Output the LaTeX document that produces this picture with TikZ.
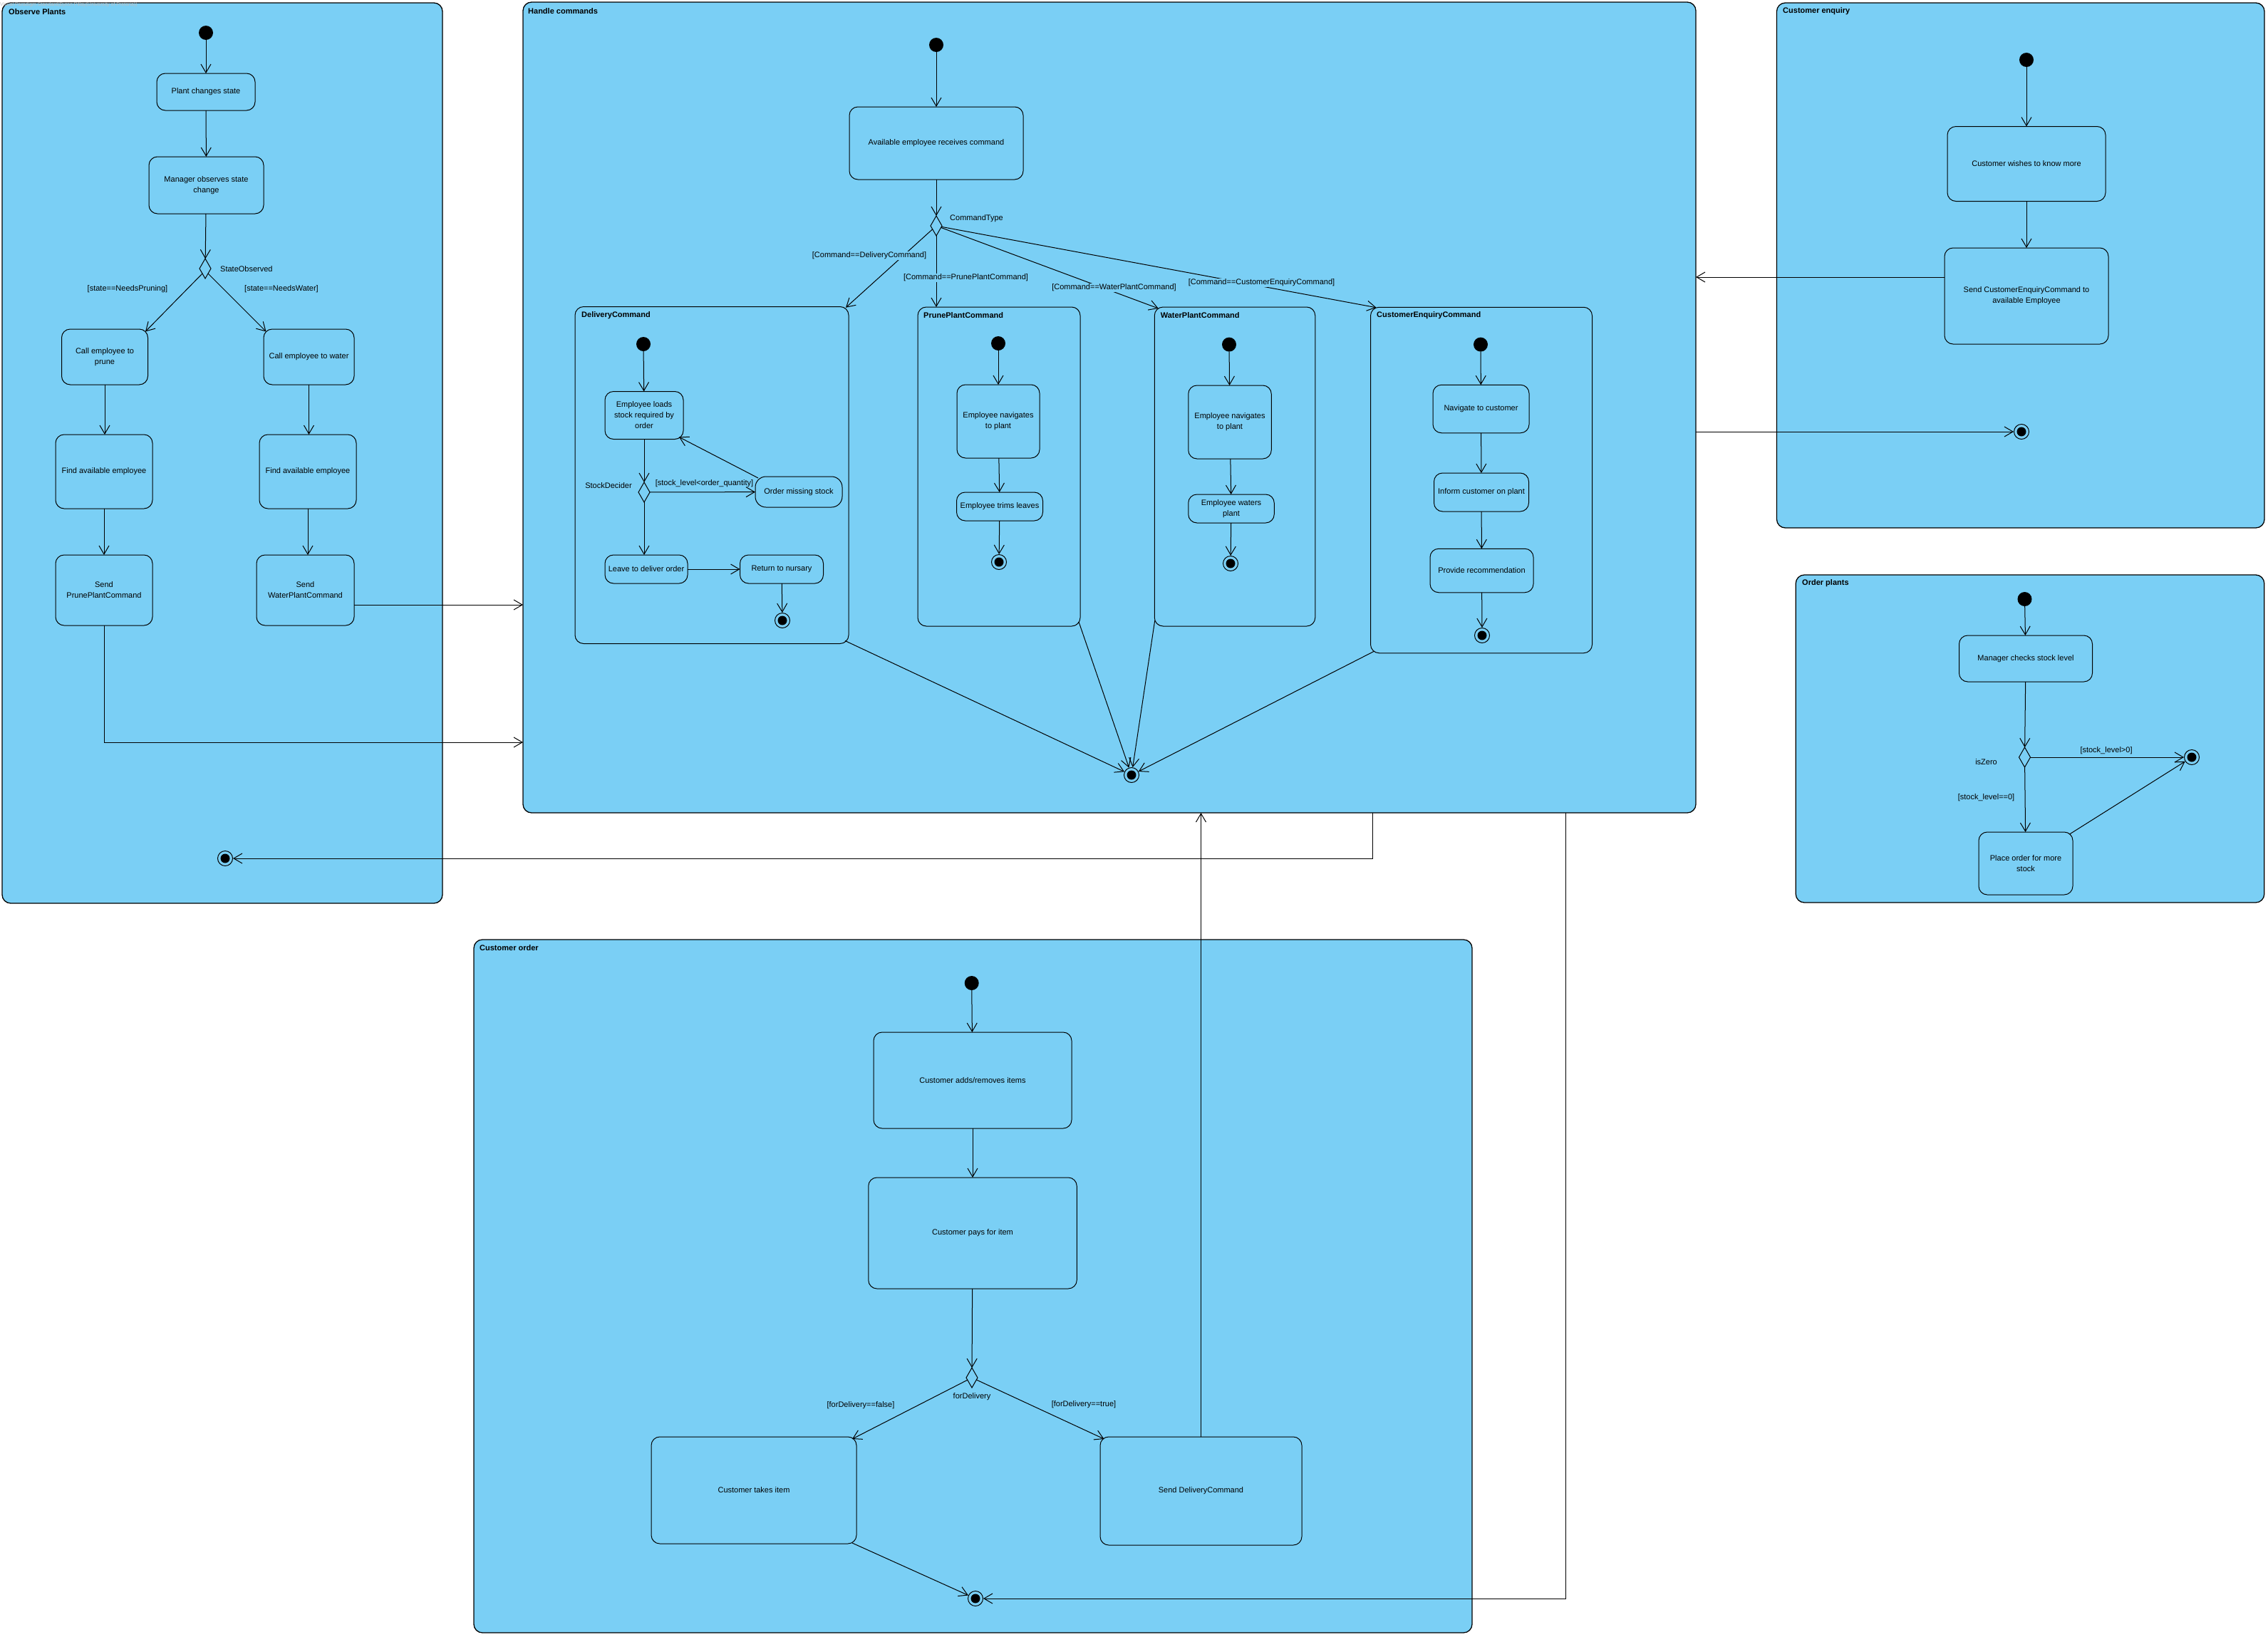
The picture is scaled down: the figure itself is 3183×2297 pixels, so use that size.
\documentclass[tikz,border=0pt]{standalone}
\usepackage{fontspec}
\setmainfont{Liberation Sans}
\usetikzlibrary{arrows.meta,shapes.geometric,calc}
\definecolor{vpblue}{RGB}{122,207,245}
\begin{document}
\begin{tikzpicture}[x=1pt,y=-1pt,
  frm/.style={draw, fill=vpblue, rounded corners=12pt, line width=1.3pt, inner sep=0pt, outer sep=0pt},
  frmtitle/.style={anchor=west, inner sep=0pt, font=\fontsize{11}{13}\selectfont\bfseries},
  st/.style={draw, fill=vpblue, rounded corners=12pt, line width=1pt, align=center, inner sep=1pt, outer sep=0pt, font=\fontsize{11}{15}\selectfont},
  ini/.style={circle, fill=black, minimum size=20pt, inner sep=0pt},
  fin/.style={circle, draw, line width=1pt, fill=vpblue, minimum size=21pt, inner sep=0pt,
    path picture={\fill[black] (path picture bounding box.center) circle (6.5pt);}},
  dec/.style={diamond, draw, fill=vpblue, line width=1pt, minimum width=16pt, minimum height=28pt, inner sep=0pt, outer sep=0pt},
  lbl/.style={inner sep=1pt, font=\fontsize{11}{13}\selectfont},
  lblf/.style={lbl, fill=vpblue},
  arr/.style={line width=1pt, -{Straight Barb[length=12pt,width=14pt]}},
  ln/.style={line width=1pt}
]
\useasboundingbox (0,0) rectangle (3183,2297);
\fill[white] (0,0) rectangle (3183,2297);

% ================= frames =================
\node[frm, minimum width=618pt, minimum height=1264pt] (op) at (312,636) {};
\node[frmtitle] (opt) at (12,17) {Observe Plants};

\node[frm, minimum width=1646pt, minimum height=1138pt] (hc) at (1557,572) {};
\node[frmtitle] (hct) at (741,16) {Handle commands};

\node[frm, minimum width=684.5pt, minimum height=737pt] (cq) at (2835.75,372.5) {};
\node[frmtitle] (cqt) at (2502,16) {Customer enquiry};

\node[frm, minimum width=657.5pt, minimum height=460pt] (ord) at (2849,1037) {};
\node[frmtitle] (ordt) at (2529,819) {Order plants};

\node[frm, minimum width=1401pt, minimum height=973pt] (co) at (1365.5,1805.5) {};
\node[frmtitle] (cot) at (673,1331) {Customer order};

% inner frames of Handle commands
\node[frm, line width=1pt, minimum width=384pt, minimum height=473pt] (dc) at (999,667) {};
\node[frmtitle] (dct) at (816,443) {DeliveryCommand};
\node[frm, line width=1pt, minimum width=228pt, minimum height=448pt] (pp) at (1402,655) {};
\node[frmtitle] (ppt) at (1296,443) {PrunePlantCommand};
\node[frm, line width=1pt, minimum width=225.5pt, minimum height=448pt] (wp) at (1733,655) {};
\node[frmtitle] (wpt) at (1628.6,443) {WaterPlantCommand};
\node[frm, line width=1pt, minimum width=311pt, minimum height=485.5pt] (ce) at (2079,674) {};
\node[frmtitle] (cet) at (1932,443) {CustomerEnquiryCommand};

% ================= Observe Plants =================
\node[ini] (opi) at (289,46) {};
\node[st, minimum width=138pt, minimum height=52pt] (op1) at (289,129) {Plant changes state};
\node[st, minimum width=161pt, minimum height=80pt] (op2) at (289.5,260) {Manager observes state\\change};
\node[dec] (opd) at (288,377) {};
\node[st, minimum width=121pt, minimum height=78pt] (op3) at (147,501) {Call employee to\\prune};
\node[st, minimum width=127pt, minimum height=78pt] (op4) at (433.5,501) {Call employee to water};
\node[st, minimum width=136pt, minimum height=104pt] (op5) at (146,662) {Find available employee};
\node[st, minimum width=136pt, minimum height=104pt] (op6) at (432,662) {Find available employee};
\node[st, minimum width=136pt, minimum height=99pt] (op7) at (146,828.5) {Send\\PrunePlantCommand};
\node[st, minimum width=137pt, minimum height=99pt] (op8) at (428.5,828.5) {Send\\WaterPlantCommand};
\node[fin] (opf) at (316,1205) {};

% ================= Handle commands =================
\node[ini] (hci) at (1314,63) {};
\node[st, minimum width=244pt, minimum height=102pt] (hc1) at (1314,201) {Available employee receives command};
\node[dec] (hcd) at (1314,317) {};
\node[fin] (hcf) at (1588,1088) {};

% DeliveryCommand
\node[ini] (dci) at (903,483) {};
\node[st, minimum width=110pt, minimum height=67pt] (dc1) at (904,583) {Employee loads\\stock required by\\order};
\node[dec] (dcd) at (904,691) {};
\node[st, minimum width=122pt, minimum height=43pt, rounded corners=15pt] (dc2) at (1121,690.5) {Order missing stock};
\node[st, minimum width=116pt, minimum height=40pt] (dc3) at (907,799) {Leave to deliver order};
\node[st, minimum width=117pt, minimum height=40pt] (dc4) at (1097,799) {Return to nursary};
\node[fin] (dcf) at (1098,871) {};

% PrunePlantCommand
\node[ini] (ppi) at (1401,482) {};
\node[st, minimum width=116pt, minimum height=103pt] (pp1) at (1401,591.5) {Employee navigates\\to plant};
\node[st, minimum width=121pt, minimum height=40pt] (pp2) at (1403,711) {Employee trims leaves};
\node[fin] (ppf) at (1402,789) {};

% WaterPlantCommand
\node[ini] (wpi) at (1725,483.6) {};
\node[st, minimum width=116.5pt, minimum height=103pt] (wp1) at (1726,592.5) {Employee navigates\\to plant};
\node[st, minimum width=120.5pt, minimum height=40pt] (wp2) at (1728,714) {Employee waters\\plant};
\node[fin] (wpf) at (1727,791) {};

% CustomerEnquiryCommand
\node[ini] (cei) at (2078,483.6) {};
\node[st, minimum width=135pt, minimum height=67.5pt] (ce1) at (2078.5,574) {Navigate to customer};
\node[st, minimum width=133pt, minimum height=54pt] (ce2) at (2079,691) {Inform customer on plant};
\node[st, minimum width=145pt, minimum height=61.5pt] (ce3) at (2079.5,801) {Provide recommendation};
\node[fin] (cef) at (2080,892) {};

% ================= Customer enquiry =================
\node[ini] (cqi) at (2844,84) {};
\node[st, minimum width=222pt, minimum height=105pt] (cq1) at (2844,230) {Customer wishes to know more};
\node[st, minimum width=230pt, minimum height=135pt] (cq2) at (2844,415.5) {Send CustomerEnquiryCommand to\\available Employee};
\node[fin] (cqf) at (2837,606) {};

% ================= Order plants =================
\node[ini] (ordi) at (2841.5,841) {};
\node[st, minimum width=187pt, minimum height=65pt] (ord1) at (2843,924.5) {Manager checks stock level};
\node[dec] (ordd) at (2841.5,1063) {};
\node[fin] (ordf) at (3076,1063) {};
\node[st, minimum width=132pt, minimum height=88pt] (ord2) at (2843,1212) {Place order for more\\stock};

% ================= Customer order =================
\node[ini] (coi) at (1363.7,1380) {};
\node[st, minimum width=278pt, minimum height=135pt] (co1) at (1365,1516.5) {Customer adds/removes items};
\node[st, minimum width=292.5pt, minimum height=156pt] (co2) at (1365,1731) {Customer pays for item};
\node[dec] (cod) at (1364,1934) {};
\node[st, minimum width=288pt, minimum height=150pt] (co3) at (1058,2092) {Customer takes item};
\node[st, minimum width=283pt, minimum height=152pt] (co4) at (1685.5,2093) {Send DeliveryCommand};
\node[fin] (cof) at (1369,2244) {};

% ================= connectors: Observe Plants =================
\draw[arr] (opi) -- (op1);
\draw[arr] (op1) -- (op2);
\draw[arr] (op2) -- (opd);
\draw[arr] (opd.south west) -- ($(op3.north east)+(-3.5,3.5)$);
\draw[arr] (opd.south east) -- ($(op4.north west)+(3.5,3.5)$);
\draw[arr] (op3.south) -- (op3.south |- op5.north);
\draw[arr] (op4.south) -- (op4.south |- op6.north);
\draw[arr] (op5) -- (op7);
\draw[arr] (op6.south) -- (op6.south |- op8.north);

% ================= connectors: Handle commands =================
\draw[arr] (hci) -- (hc1);
\draw[arr] (hc1) -- (hcd);
\draw[arr] (hcd) -- ($(dc.north east)+(-4,1.3)$);
\draw[arr] (hcd.south) -- (hcd.south |- pp.north);
\draw[arr] (hcd) -- ($(wp.north west)+(5.5,2)$);
\draw[arr] (hcd) -- ($(ce.north west)+(8,0.5)$);

\draw[arr] (dci) -- (dc1);
\draw[arr] (dc1) -- (dcd);
\draw[arr] (dcd) -- (dc2);
\draw[arr] ($(dc2.north west)+(4,2)$) -- ($(dc1.south east)+(-6,-3)$);
\draw[arr] (dcd.south) -- (dcd.south |- dc3.north);
\draw[arr] (dc3) -- (dc4);
\draw[arr] (dc4) -- (dcf);

\draw[arr] (ppi) -- (pp1);
\draw[arr] (pp1) -- (pp2);
\draw[arr] (pp2) -- (ppf);

\draw[arr] (wpi) -- (wp1);
\draw[arr] (wp1) -- (wp2);
\draw[arr] (wp2) -- (wpf);

\draw[arr] (cei) -- (ce1);
\draw[arr] (ce1) -- (ce2);
\draw[arr] (ce2) -- (ce3);
\draw[arr] (ce3) -- (cef);

\draw[arr] ($(dc.south east)+(-5,-4)$) -- (hcf);
\draw[arr] ($(pp.south east)+(-2,-6)$) -- (hcf);
\draw[arr] ($(wp.south west)+(0.5,-8)$) -- (hcf);
\draw[arr] ($(ce.south west)+(5,-2.5)$) -- (hcf);

% ================= connectors: Customer enquiry =================
\draw[arr] (cqi) -- (cq1);
\draw[arr] (cq1) -- (cq2);

% ================= connectors: Order plants =================
\draw[arr] (ordi) -- (ord1);
\draw[arr] (ord1) -- (ordd);
\draw[arr] (ordd) -- (ordf);
\draw[arr] (ordd) -- (ord2);
\draw[arr] ($(ord2.north east)+(-4.5,3)$) -- (ordf);

% ================= connectors: Customer order =================
\draw[arr] (coi) -- (co1);
\draw[arr] (co1) -- (co2);
\draw[arr] (co2) -- (cod);
\draw[arr] (cod) -- ($(co3.north east)+(-6,3)$);
\draw[arr] (cod) -- ($(co4.north west)+(5.5,3)$);
\draw[arr] ($(co3.south east)+(-6,-1)$) -- (cof);

% ================= connectors between frames =================
\coordinate (s1) at ($(op8.east)+(0,20.5)$);
\draw[arr] (s1) -- (s1 -| hc.west);
\coordinate (s2) at ($(op7.south)+(0,164)$);
\draw[arr] (op7.south) -- (s2) -- (s2 -| hc.west);
\coordinate (s3) at ($(hc.south)+(369,0)$);
\draw[arr] (s3) |- (opf);
\coordinate (s4) at ($(cq2.west)+(0,-26.5)$);
\draw[arr] (s4) -- (s4 -| hc.east);
\draw[arr] (hc.east |- cqf) -- (cqf);
\draw[arr] (co4.north) -- (co4.north |- hc.south);
\coordinate (s7) at ($(hc.south)+(640,0)$);
\draw[arr] (s7) |- (cof);

% ================= labels =================
\node[lbl, anchor=west] (l1) at (308,378) {StateObserved};
\node[lbl] (l2) at (179,406) {[state==NeedsPruning]};
\node[lbl] (l3) at (395,406) {[state==NeedsWater]};

\node[lbl, anchor=west] (l4) at (1332,307) {CommandType};
\node[lblf] (l5) at (1220,359) {[Command==DeliveryCommand]};
\node[lblf] (l6) at (1355.5,390) {[Command==PrunePlantCommand]};
\node[lblf] (l7) at (1563.5,404) {[Command==WaterPlantCommand]};
\node[lblf] (l8) at (1770.5,397) {[Command==CustomerEnquiryCommand]};

\node[lbl] (l9) at (854,682) {StockDecider};
\node[lbl] (l10) at (988.5,679) {[stock\_level<order\_quantity]};

\node[lbl] (l11) at (2787.5,1070) {isZero};
\node[lbl] (l12) at (2956,1054) {[stock\_level>0]};
\node[lbl] (l13) at (2787.5,1120) {[stock\_level==0]};

\node[lbl] (l14) at (1364,1961) {forDelivery};
\node[lbl] (l15) at (1208,1973) {[forDelivery==false]};
\node[lbl] (l16) at (1521,1972) {[forDelivery==true]};

% watermark
\node[anchor=west, inner sep=0pt, text=black!25, font=\fontsize{7}{8}\selectfont] (wm) at (0,7) {Visual Paradigm Standard(Byron Pillay(University of Pretoria))};
\end{tikzpicture}
\end{document}
